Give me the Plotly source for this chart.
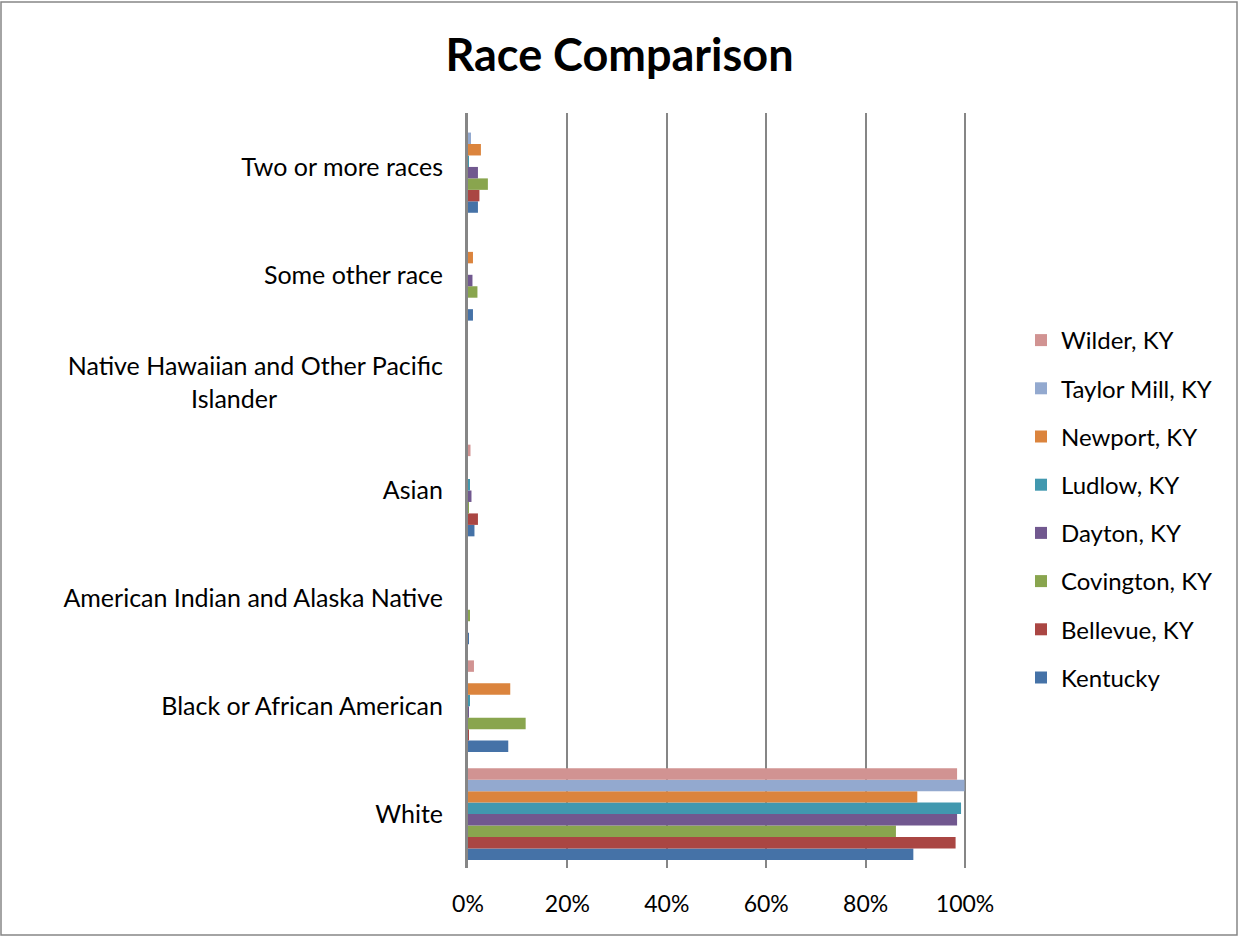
import plotly.graph_objects as go

categories = ["White", "Black or African American", "American Indian and Alaska Native",
              "Asian", "Native Hawaiian and Other Pacific Islander", "Some other race",
              "Two or more races"]
# displayed labels (the long one wraps onto two lines, second line centred)
category_labels = ["White", "Black or African American", "American Indian and Alaska Native",
                   "Asian", "Native Hawaiian and Other Pacific<br>Islander" + "\u00a0" * 26,
                   "Some other race", "Two or more races"]

series_names = ["Kentucky", "Bellevue, KY", "Covington, KY", "Dayton, KY",
                "Ludlow, KY", "Newport, KY", "Taylor Mill, KY", "Wilder, KY"]

kentucky    = [0.896, 0.081, 0.002, 0.013, 0.000, 0.010, 0.020]
bellevue    = [0.981, 0.001, 0.000, 0.020, 0.000, 0.000, 0.023]
covington   = [0.861, 0.116, 0.003, 0.002, 0.000, 0.019, 0.040]
dayton      = [0.984, 0.001, 0.000, 0.007, 0.000, 0.009, 0.020]
ludlow      = [0.992, 0.004, 0.000, 0.003, 0.000, 0.000, 0.001]
newport     = [0.904, 0.085, 0.000, 0.000, 0.000, 0.010, 0.026]
taylor_mill = [0.999, 0.000, 0.000, 0.000, 0.000, 0.000, 0.006]
wilder      = [0.984, 0.012, 0.000, 0.005, 0.000, 0.000, 0.000]

series_values = [kentucky, bellevue, covington, dayton, ludlow, newport, taylor_mill, wilder]
colors = ["#4572A7", "#AA4643", "#89A54E", "#71588F", "#4198AF", "#DB843D", "#93A9CF", "#D19392"]

x_ticks = [0, 0.2, 0.4, 0.6, 0.8, 1.0]
x_tick_labels = ["0%", "20%", "40%", "60%", "80%", "100%"]

FONT = "Lato, Carlito, Calibri, 'Open Sans', sans-serif"

fig = go.Figure()
n = len(series_names)
for i, (name, vals, col) in enumerate(zip(series_names, series_values, colors)):
    fig.add_trace(go.Bar(
        y=categories, x=vals, name=name, orientation="h",
        marker=dict(color=col, line=dict(width=0)),
        legendgroup=name, legendrank=n - i,
    ))

W, H = 1239, 936
XMAX = 1.01
L, T, B = 468, 113, 68
pw = round(497 * XMAX)
R = W - L - pw
ph = H - T - B

fig.update_layout(
    width=W, height=H,
    margin=dict(l=L, r=R, t=T, b=B),
    paper_bgcolor="white", plot_bgcolor="white",
    barmode="group", bargap=0.15, bargroupgap=0,
    font=dict(family=FONT, size=23, color="black"),
    title=dict(text="<b>Race Comparison</b>", x=0.5, xanchor="center",
               y=1 - 55 / H, yanchor="middle",
               font=dict(family=FONT, size=45, color="black")),
    legend=dict(traceorder="grouped", tracegroupgap=14,
                x=(1021 - L) / pw, xanchor="left",
                y=(H - B - 318) / ph, yanchor="top",
                font=dict(family=FONT, size=24, color="black"),
                bgcolor="rgba(0,0,0,0)"),
    xaxis=dict(range=[0, XMAX], tickvals=x_ticks, ticktext=x_tick_labels,
               showgrid=True, gridcolor="#868686", gridwidth=2,
               zeroline=False, showline=False, ticks="",
               ticklabelstandoff=20, fixedrange=True),
    yaxis=dict(categoryorder="array", categoryarray=categories,
               tickvals=categories, ticktext=category_labels,
               showline=True, linecolor="#868686", linewidth=3,
               showgrid=False, zeroline=False, ticks="",
               tickfont=dict(family=FONT, size=25, color="black"),
               ticklabelstandoff=17),
    shapes=[dict(type="rect", xref="paper", yref="paper",
                 x0=(1 - L) / pw, x1=(W - 2 - L) / pw,
                 y0=(1 - B) / ph, y1=(H - 2 - B) / ph,
                 line=dict(color="#868686", width=1.5), fillcolor="rgba(0,0,0,0)",
                 layer="below")],
)

fig.write_html("out.html", config={"displayModeBar": False},
               post_script="document.body.style.margin='0';")
